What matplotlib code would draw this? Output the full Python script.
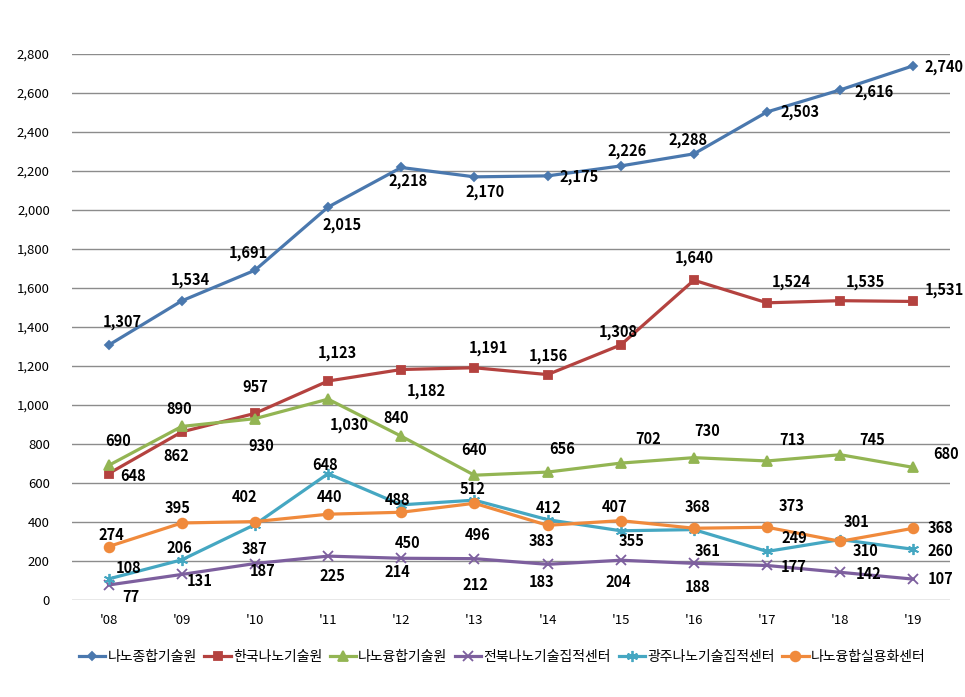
import numpy as np
import matplotlib.pyplot as plt

years = ["'08", "'09", "'10", "'11", "'12", "'13", "'14", "'15", "'16", "'17", "'18", "'19"]

names = ["나노종합기술원", "한국나노기술원", "나노융합기술원",
         "전북나노기술집적센터", "광주나노기술집적센터", "나노융합실용화센터"]

nnfc = [1307, 1534, 1691, 2015, 2218, 2170, 2175, 2226, 2288, 2503, 2616, 2740]
kanc = [648, 862, 957, 1123, 1182, 1191, 1156, 1308, 1640, 1524, 1535, 1531]
nano_fusion = [690, 890, 930, 1030, 840, 640, 656, 702, 730, 713, 745, 680]
jeonbuk = [77, 131, 187, 225, 214, 212, 183, 204, 188, 177, 142, 107]
gwangju = [108, 206, 387, 648, 488, 512, 412, 355, 361, 249, 310, 260]
practical = [274, 395, 402, 440, 450, 496, 383, 407, 368, 373, 301, 368]

series = [nnfc, kanc, nano_fusion, jeonbuk, gwangju, practical]
colors = ["#4A78AE", "#B4423F", "#93B553", "#7D5F9E", "#45A7C2", "#F08A3C"]
markers = ["D", "s", "^", "x", (6, 2, 0), "o"]
msizes = [4.5, 6, 6.5, 7, 8, 7]

# label offsets in pixels (dx right, dy down)
offsets = [
    [(14, -23), (9, -21), (-7, -17), (14, 18), (7, 14), (11, 15), (32, 1), (6, -15), (-6, -14), (33, 0), (34, 2), (31, 1)],
    [(24, 2), (-5, 24), (0, -26), (9, -28), (25, 21), (14, -20), (1, -19), (-3, -13), (0, -22), (24, -21), (25, -19), (31, -11)],
    [(10, -24), (-3, -17), (6, 27), (21, 26), (-5, -18), (0, -25), (15, -23), (27, -24), (13, -27), (25, -21), (32, -15), (33, -13)],
    [(22, 12), (18, 7), (8, 7), (4, 20), (-4, 14), (1, 26), (-6, 18), (-2, 22), (4, 24), (27, 2), (28, 2), (27, 0)],
    [(20, -11), (-2, -12), (0, 24), (-3, -9), (-4, -5), (-2, -11), (1, -12), (11, 10), (14, 21), (27, -13), (25, 11), (27, 2)],
    [(3, -12), (-4, -15), (-10, -25), (1, -17), (6, 31), (3, 32), (-6, 16), (-6, -14), (4, -21), (25, -21), (16, -19), (27, 0)],
]

plt.rcParams['font.family'] = ['Noto Sans CJK KR', 'DejaVu Sans']

fig = plt.figure(figsize=(9.65, 6.97), dpi=100)
ax = fig.add_axes([72 / 965, 1 - 600 / 697, 878 / 965, 546 / 697])

x = np.arange(len(years))
for vals, name, c, m, ms, offs in zip(series, names, colors, markers, msizes, offsets):
    ax.plot(x, vals, color=c, marker=m, markersize=ms, linewidth=2.3,
            markeredgecolor=c, markerfacecolor=c, markeredgewidth=1.3, label=name, zorder=3)
    for xi, v, (dx, dy) in zip(x, vals, offs):
        ax.annotate(f"{v:,}", (xi, v), xytext=(dx * 0.72, -dy * 0.72), textcoords="offset points",
                    ha="center", va="center", fontsize=10.5, fontweight="bold", color="black", zorder=4)

ax.set_xlim(-0.5, len(years) - 0.5)
ax.set_ylim(0, 2800)
ax.set_yticks(np.arange(0, 2801, 200))
ax.set_yticklabels([f"{v:,}" for v in range(0, 2801, 200)], fontsize=9.5)
ax.set_xticks(x)
ax.set_xticklabels(years, fontsize=9.5)
ax.tick_params(length=0, pad=10)
ax.tick_params(axis="y", pad=16)
ax.grid(axis="y", color="#8C8C8C", linewidth=1)
ax.set_axisbelow(True)
for s in ax.spines.values():
    s.set_visible(False)

ax.legend(loc="center", bbox_to_anchor=(0.49, -0.105), ncol=6, frameon=False,
          fontsize=10, handlelength=1.9, handletextpad=0.15, columnspacing=0.55,
          borderaxespad=0, borderpad=0)

fig.savefig("out.png", dpi=100)
